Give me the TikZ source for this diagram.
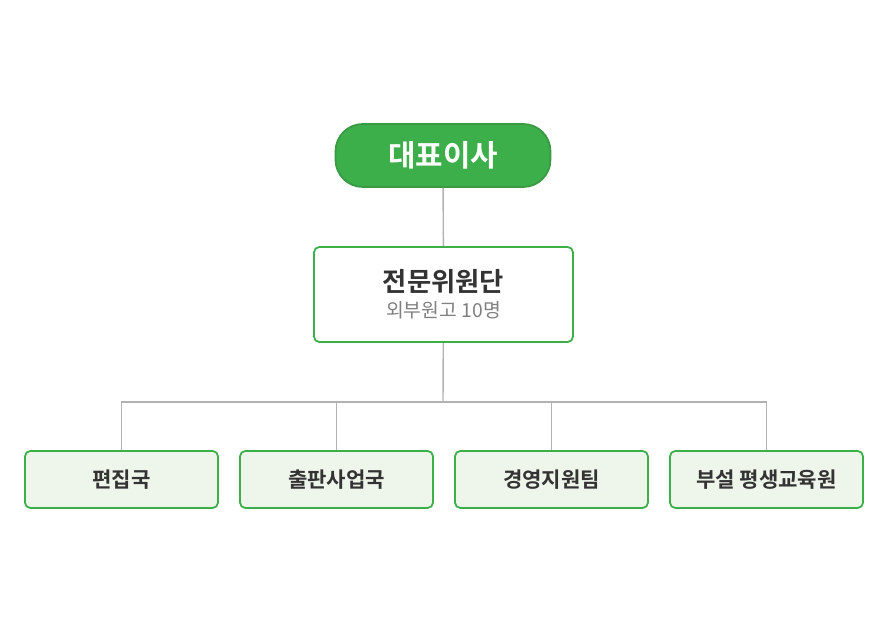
\documentclass[tikz,border=0pt]{standalone}
\usepackage{fontspec}
\setmainfont{Noto Sans CJK KR}
\newfontfamily\krbold{Noto Sans CJK KR Bold}
\usetikzlibrary{positioning}
\definecolor{grn}{HTML}{3CAE4A}
\definecolor{grnline}{HTML}{3A9A44}
\definecolor{pale}{HTML}{EEF5EA}
\definecolor{txt}{HTML}{333333}
\tikzset{every node/.style={inner sep=0pt}}
\tikzset{top/.style={rectangle,rounded corners=15.5pt,draw=grnline,fill=grn,line width=1pt,minimum width=4.3cm,minimum height=1.26cm,text=white,font=\krbold\fontsize{17}{20}\selectfont}}
\tikzset{mid/.style={rectangle,rounded corners=3pt,draw=grn,fill=white,line width=1pt,minimum width=5.18cm,minimum height=1.9cm,align=center}}
\tikzset{dept/.style={rectangle,rounded corners=3pt,draw=grn,fill=pale,line width=1pt,minimum width=3.86cm,minimum height=1.14cm,text=txt,font=\krbold\fontsize{12}{14}\selectfont}}
\tikzset{ln/.style={draw=black!30,line width=0.8pt}}
\begin{document}
\begin{tikzpicture}[x=0.02cm,y=-0.02cm]
  \useasboundingbox (0,0) rectangle (887,641);
  \node[top] (CEO) at (443,155.5) {대표이사};
  \node[mid] (C) at (443.5,294.5) {{\krbold\fontsize{15}{18}\selectfont\color{txt}전문위원단}\\[3pt]{\fontsize{11}{13}\selectfont\color{black!50}외부원고 10명}};
  \node[dept] (D1) at (121.5,479.5) {편집국};
  \node[dept] (D2) at (336.5,479.5) {출판사업국};
  \node[dept] (D3) at (551.5,479.5) {경영지원팀};
  \node[dept] (D4) at (766.5,479.5) {부설 평생교육원};
  \coordinate (J) at (443,402);
  \draw[ln] (CEO) -- (C);
  \draw[ln] (C) -- (J);
  \foreach \d in {D1,D2,D3,D4}
    \draw[ln] (J) -| (\d.north);
\end{tikzpicture}
\end{document}
